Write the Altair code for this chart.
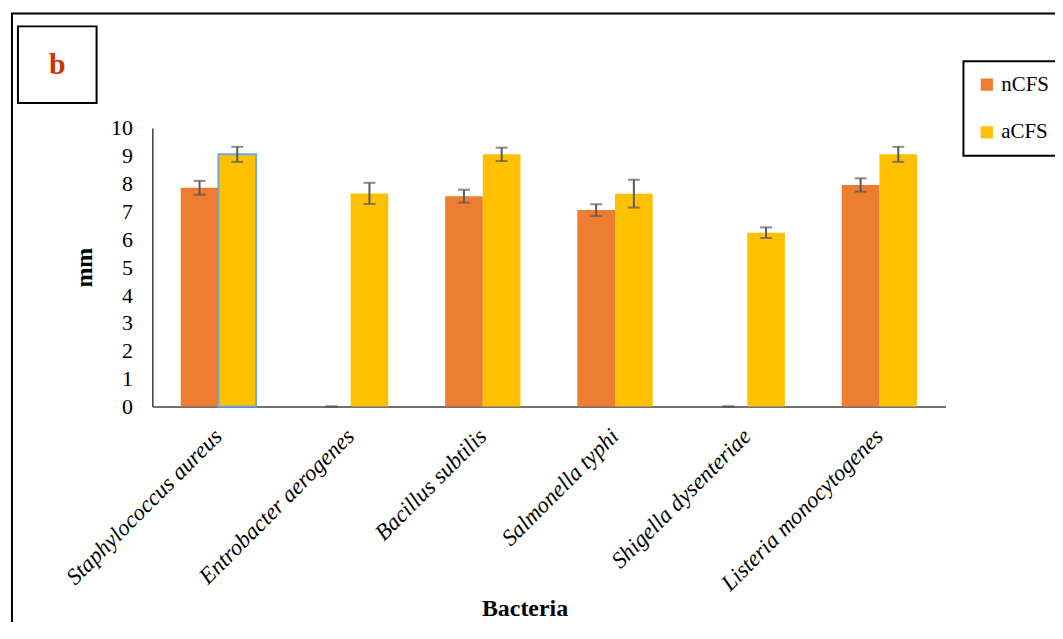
import altair as alt
import pandas as pd

bacteria = ["Staphylococcus aureus", "Entrobacter aerogenes", "Bacillus subtilis",
            "Salmonella typhi", "Shigella dysenteriae", "Listeria monocytogenes"]
series = ["nCFS", "aCFS"]
ncfs = [7.85, 0.0, 7.55, 7.05, 0.0, 7.95]
acfs = [9.05, 7.65, 9.05, 7.64, 6.24, 9.05]
ncfs_err = [0.25, 0.0, 0.23, 0.21, 0.0, 0.24]
acfs_err = [0.27, 0.38, 0.24, 0.5, 0.19, 0.27]
y_ticks = [0, 1, 2, 3, 4, 5, 6, 7, 8, 9, 10]
colors = ["#ED7D31", "#FFC000"]

rows = []
for i, b in enumerate(bacteria):
    rows.append({"Bacteria": b, "Series": "nCFS", "mm": ncfs[i], "err": ncfs_err[i],
                 "hl": False})
    rows.append({"Bacteria": b, "Series": "aCFS", "mm": acfs[i], "err": acfs_err[i],
                 "hl": i == 0})
df = pd.DataFrame(rows)
df["lo"] = df["mm"] - df["err"]
df["hi"] = df["mm"] + df["err"]

FONT = "Liberation Serif"

x_axis = alt.Axis(title="Bacteria", labelAngle=-45, labelAlign="right",
                  labelBaseline="middle", labelFont=FONT, labelFontStyle="italic",
                  labelFontSize=23, labelColor="black", labelPadding=26,
                  ticks=False, domainColor="#404040", domainWidth=1.5,
                  titleFont=FONT, titleFontSize=24, titleFontWeight="bold",
                  titleColor="black", titleX=374, titleY=203,
                  titleAlign="center", titleBaseline="middle", labelLimit=400,
                  labelOverlap=False)
y_axis = alt.Axis(title="mm", values=y_ticks, grid=False, ticks=False,
                  labelOverlap=False, labelFont=FONT, labelFontSize=22,
                  labelColor="black", labelPadding=20, domainColor="#404040",
                  domainWidth=1.5, titleFont=FONT, titleFontSize=24,
                  titleFontWeight="bold", titleColor="black", titlePadding=14)

x_enc = alt.X("Bacteria:N", sort=bacteria,
              scale=alt.Scale(paddingInner=0.43, paddingOuter=0.215), axis=x_axis)
xo_enc = alt.XOffset("Series:N", sort=series, scale=alt.Scale(paddingInner=0, paddingOuter=0))
y_scale = alt.Scale(domain=[0, 10], nice=False)


def yenc(field):
    return alt.Y(field, type="quantitative", scale=y_scale, axis=y_axis, title="mm")


bars = alt.Chart(df).mark_bar().encode(
    x=x_enc,
    xOffset=xo_enc,
    y=yenc("mm"),
    color=alt.Color("Series:N", sort=series,
                    scale=alt.Scale(domain=series, range=colors),
                    legend=alt.Legend(title=None, orient="none", legendX=815, legendY=-67,
                                      symbolType="square", symbolSize=150,
                                      symbolStrokeWidth=0, labelFont=FONT,
                                      labelFontSize=21, labelColor="black",
                                      rowPadding=26, padding=13, strokeColor="black")),
)

outline = alt.Chart(df).transform_filter("datum.hl").mark_bar(
    fillOpacity=0, stroke="#6FA8DC", strokeWidth=2).encode(
    x=x_enc, xOffset=xo_enc, y=yenc("mm"))

rules = alt.Chart(df).mark_rule(color="#595959", strokeWidth=2).encode(
    x=x_enc, xOffset=xo_enc, y=yenc("lo"), y2="hi:Q")

caps_lo = alt.Chart(df).mark_tick(color="#595959", thickness=2, size=12).encode(
    x=x_enc, xOffset=xo_enc, y=yenc("lo"))
caps_hi = alt.Chart(df).mark_tick(color="#595959", thickness=2, size=12).encode(
    x=x_enc, xOffset=xo_enc, y=yenc("hi"))

one = alt.Data(values=[{"k": 1}])
frame = alt.Chart(one).mark_rect(fill=None, stroke="black", strokeWidth=2).encode(
    x=alt.value(-141), x2=alt.value(1000), y=alt.value(-115), y2=alt.value(700))
bbox = alt.Chart(one).mark_rect(fill="white", stroke="black", strokeWidth=2).encode(
    x=alt.value(-135), x2=alt.value(-56), y=alt.value(-102), y2=alt.value(-25))
btext = alt.Chart(one).mark_text(font=FONT, fontSize=30, fontWeight="bold",
                                 color="#CC3300", align="center", baseline="middle").encode(
    x=alt.value(-95.5), y=alt.value(-63), text=alt.value("b"))

chart = alt.layer(frame, bbox, btext, bars, outline, rules, caps_lo, caps_hi).properties(
    width=797, height=280,
    autosize=alt.AutoSizeParams(type="none"),
    padding={"left": 145, "top": 119, "right": 110, "bottom": 215},
).configure(font=FONT).configure_view(stroke=None).configure_axis(
    labelFont=FONT, titleFont=FONT, labelColor="black", titleColor="black"
).configure_legend(strokeWidth=2, labelFont=FONT, labelColor="black")

chart.save("out.html", embed_options={"renderer": "svg", "actions": False})
